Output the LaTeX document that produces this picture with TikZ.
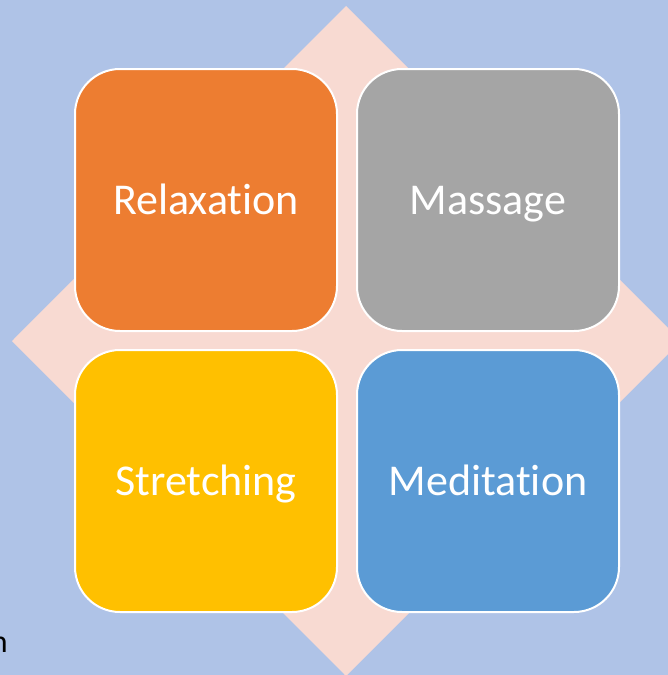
\documentclass[tikz,border=0pt]{standalone}
\usepackage{fontspec}
\setmainfont[Ligatures={NoCommon}]{Carlito}
\definecolor{bgblue}{HTML}{AFC3E7}
\definecolor{petal}{HTML}{F8DAD2}
\definecolor{tileorange}{HTML}{ED7D31}
\definecolor{tilegray}{HTML}{A5A5A5}
\definecolor{tileyellow}{HTML}{FFC000}
\definecolor{tileblue}{HTML}{5B9BD5}
\begin{document}
\begin{tikzpicture}[
    x=1pt, y=-1pt,
    tile/.style={rectangle, draw=white, line width=2pt, rounded corners=45pt,
        minimum width=262pt, minimum height=262pt, inner sep=0pt,
        text height=29pt, text depth=0pt,
        text=white, font=\fontsize{44}{52}\selectfont}
]

% Background
\fill[bgblue] (0,0) rectangle (668,675);
\useasboundingbox (0,0) rectangle (668,675);

% Diamond behind the tiles
\fill[petal] (346,6) -- (681,341) -- (346,676) -- (12,341) -- cycle;

% Tiles
\node[tile, fill=tileorange] (relax) at (206,200) {Relaxation};
\node[tile, fill=tilegray] (massage) at (488,200) {Massage};
\node[tile, fill=tileyellow] (stretch) at (206,481) {Stretching};
\node[tile, fill=tileblue] (medit) at (488,481) {Meditation};

% Cut-off text at the left edge
\node[anchor=base east, inner sep=0pt, font=\fontsize{32}{38}\selectfont] (cut) at (8,652) {n};

\end{tikzpicture}
\end{document}
